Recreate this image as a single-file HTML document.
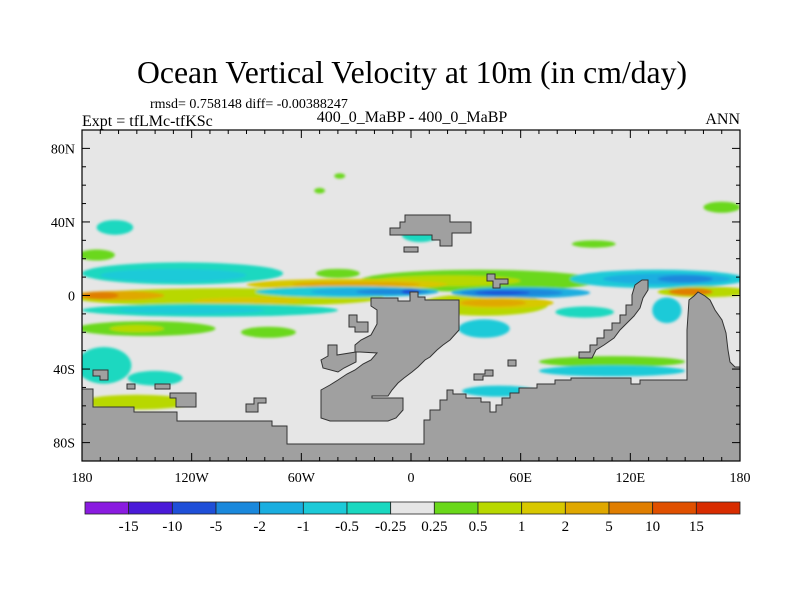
<!DOCTYPE html>
<html><head><meta charset="utf-8"><style>
body{margin:0;background:#fff;}
svg{display:block;font-family:"Liberation Serif",serif;}
</style></head><body>
<svg id="chart" width="800" height="600" viewBox="0 0 800 600">
<defs>
<clipPath id="plotclip"><rect x="82" y="130" width="658" height="331"/></clipPath>
<filter id="soft"><feGaussianBlur stdDeviation="1.2"/></filter>
</defs>
<text x="412" y="83" text-anchor="middle" font-size="31.5" textLength="550" lengthAdjust="spacingAndGlyphs">Ocean Vertical Velocity at 10m (in cm/day)</text>
<text x="150" y="108" font-size="14">rmsd= 0.758148 diff= -0.00388247</text>
<text x="82" y="126" font-size="16">Expt = tfLMc-tfKSc</text>
<text x="412" y="122" text-anchor="middle" font-size="16">400_0_MaBP - 400_0_MaBP</text>
<text x="740" y="124" text-anchor="end" font-size="16">ANN</text>
<rect x="82" y="130" width="658" height="331" fill="#e6e6e6"/>
<g id="fields" clip-path="url(#plotclip)" filter="url(#soft)"></g>
<g id="land" clip-path="url(#plotclip)" fill="#a0a0a0" stroke="#333" stroke-width="1">
<polygon points="82,389 93,389 93,407 134,407 134,412 177,412 177,421 272,421 272,426 287,426 287,444 424,444 424,420 430,420 430,410 440,410 440,400 447,400 447,390 453,390 453,394 466,394 466,398 481,398 481,402 490,402 490,412 496,412 496,405 502,405 502,398 510,398 510,393 519,393 519,388 537,388 537,384 555,384 555,380 571,380 571,378 631,378 631,384 640,384 640,380 687,380 687,330 689,300 694,296 698,292 705,296 710,300 715,310 722,320 726,333 728,350 730,362 735,367 740,367 740,461 82,461"/>
<polygon points="371,298 398,298 398,301 410,301 410,292 418,292 418,297 425,297 425,300 459,300 459,330 450,340 443,345 437,350 430,357 425,360 418,367 412,372 404,378 398,383 392,390 388,396 372,396 372,398 403,398 403,410 396,418 388,421 330,421 321,418 321,390 330,385 338,380 347,374 355,370 363,364 371,360 377,353 377,353 360,352 355,352 355,345 361,340 371,335 377,324 377,310 371,306"/>
<polygon points="328,345 337,345 337,355 356,352 356,362 344,368 338,372 323,368 321,360 328,356"/>
<polygon points="349,315 357,315 357,322 368,322 368,332 355,332 355,327 349,327"/>
<polygon points="405,215 450,215 450,222 471,222 471,233 452,233 452,246 440,246 440,240 432,240 432,235 390,235 390,228 400,228 400,222 405,222"/>
<polygon points="404,247 418,247 418,252 404,252"/>
<polygon points="487,274 495,274 495,279 508,279 508,284 500,284 500,288 493,288 493,281 487,281"/>
<polygon points="579,352 590,352 590,345 597,345 597,338 604,338 604,330 612,330 612,323 620,323 620,315 626,315 626,305 632,305 632,295 635,285 642,280 648,280 648,290 643,298 640,308 634,316 628,322 620,330 614,338 604,345 596,350 592,358 579,358"/>
<polygon points="93,370 108,370 108,380 100,380 100,376 93,376"/>
<polygon points="127,384 135,384 135,389 127,389"/>
<polygon points="155,384 170,384 170,389 155,389"/>
<polygon points="170,393 196,393 196,407 176,407 176,398 170,398"/>
<polygon points="254,398 266,398 266,403 258,403 258,412 246,412 246,404 254,404"/>
<polygon points="508,360 516,360 516,366 508,366"/>
<polygon points="485,370 493,370 493,376 483,376 483,380 474,380 474,374 485,374"/>
</g>
<rect x="82" y="130" width="658" height="331" fill="none" stroke="#000" stroke-width="1.2"/>
<g id="axes" font-size="14"></g>
<g id="colorbar"></g>
</svg>
<script>
const levelColors = ["#8a1be0","#4a1ad8","#1f4fd8","#1a88dc","#1aaee0","#1ccad8","#1ad8c0","#e6e6e6","#6ad81a","#b8d800","#d8c800","#e0a800","#e07e00","#e05000","#d82c00"];
const levelLabels = ["-15","-10","-5","-2","-1","-0.5","-0.25","0.25","0.5","1","2","5","10","15"];
const lonTicks = [-180,-120,-60,0,60,120,180];
const lonTickLabels = ["180","120W","60W","0","60E","120E","180"];
const latTicks = [80,40,0,-40,-80];
const latTickLabels = ["80N","40N","0","40S","80S"];
// anomaly features: center lon, center lat, half-width (deg), half-height (deg), level index
const featLon = [-125,-130,37,20,-100,-160,-170,-90,-35,-30,-35,-20,-10,0,40,60,55,50,50,45,135,140,150,160,153,-110,-145,-150,-78,40,140,95,110,110,48,-168,-150,-162,170,-172,-39,-50,100,5,-40,-120,-140];
const featLat = [12,11,8,8,-1,0,0,-3,6,6,2,2,2,2,-5,1.5,1.5,1.5,-4,-4,9,9,9,2,2,-8,-18,-18,-20,-18,-8,-9,-36,-41,-52,-38,-58,37,48,22,65,57,28,33,12,-8,-45];
const featW = [55,40,65,40,85,25,10,30,55,35,50,35,20,5,35,38,28,15,28,18,48,35,15,25,12,70,38,15,15,14,8,16,40,40,20,15,30,10,10,10,3,3,12,10,12,40,15];
const featH = [6,3.5,6,3,5,2.5,2,2,3,1.5,3,2,1.5,1.5,6,3,2,1,3,2,5,3,2,3,2,3.5,4,2,3,5,7,3,3,3,3,10,4,4,3,3,1.5,1.5,2,4,2.5,2,4];
const featLevel = [6,5,8,9,9,11,12,10,10,11,5,4,3,2,9,4,3,2,10,11,5,4,3,9,12,6,8,9,8,5,5,6,8,5,5,6,9,6,8,8,8,8,8,6,8,5,6];

const X0=82, X1=740, Y0=130, Y1=461;
const xScale = lon => X0 + (lon+180)/360*(X1-X0);
const yScale = lat => Y0 + (90-lat)/180*(Y1-Y0);
const NS="http://www.w3.org/2000/svg";
function mk(tag, attrs){const e=document.createElementNS(NS,tag);for(const k in attrs)e.setAttribute(k,attrs[k]);return e;}

const fields=document.getElementById('fields');
for(let i=0;i<featLon.length;i++){
  const e=mk('ellipse',{cx:xScale(featLon[i]),cy:yScale(featLat[i]),rx:featW[i]*(X1-X0)/360,ry:featH[i]*(Y1-Y0)/180,fill:levelColors[featLevel[i]]});
  
  
  fields.appendChild(e);
}

const axes=document.getElementById('axes');
for(let lon=-180;lon<=180;lon+=10){
  const big = lon%60===0;
  const L = big?8:4, x=xScale(lon);
  const t1=mk('line',{x1:x,x2:x,y1:Y1,y2:Y1-L,stroke:'#000','stroke-width':1});
  
  
  axes.appendChild(t1);
  const t2=mk('line',{x1:x,x2:x,y1:Y0,y2:Y0+L,stroke:'#000','stroke-width':1});
  
  
  axes.appendChild(t2);
}
for(let lat=-90;lat<=90;lat+=10){
  const big = lat%40===0;
  const L = big?8:4, y=yScale(lat);
  const t1=mk('line',{x1:X0,x2:X0+L,y1:y,y2:y,stroke:'#000','stroke-width':1});
  
  
  axes.appendChild(t1);
  const t2=mk('line',{x1:X1,x2:X1-L,y1:y,y2:y,stroke:'#000','stroke-width':1});
  
  
  axes.appendChild(t2);
}
lonTicks.forEach((lon,i)=>{
  const t=mk('text',{x:xScale(lon),y:482,'text-anchor':'middle'});
  t.textContent=lonTickLabels[i];
  
  
  axes.appendChild(t);
});
latTicks.forEach((lat,i)=>{
  const t=mk('text',{x:75,y:yScale(lat)+5,'text-anchor':'end'});
  t.textContent=latTickLabels[i];
  
  
  axes.appendChild(t);
});

const cb=document.getElementById('colorbar');
const cbX=85, cbW=655, cbY=502, cbH=12, n=levelColors.length, bw=cbW/n;
levelColors.forEach((c,i)=>{
  const r=mk('rect',{x:cbX+i*bw,y:cbY,width:bw,height:cbH,fill:c,stroke:'#222','stroke-width':0.8});
  
  
  cb.appendChild(r);
});
levelLabels.forEach((s,i)=>{
  const t=mk('text',{x:cbX+(i+1)*bw,y:531,'text-anchor':'middle','font-size':15});
  t.textContent=s;
  
  
  cb.appendChild(t);
});
</script>
</body></html>
